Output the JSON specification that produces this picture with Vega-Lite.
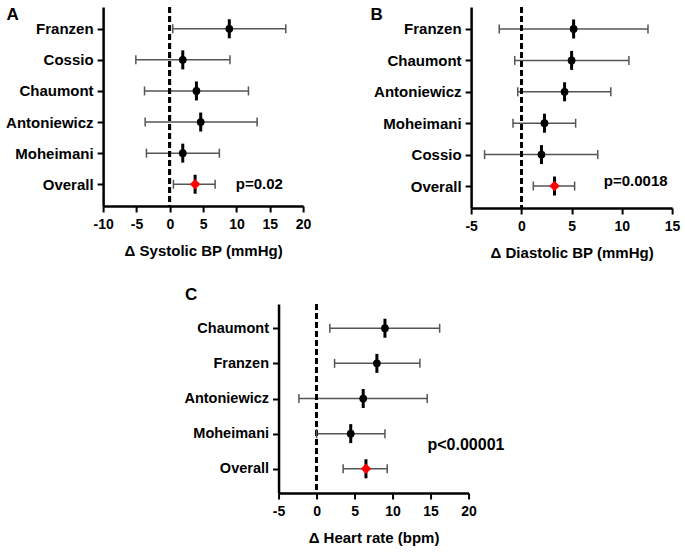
{
  "$schema": "https://vega.github.io/schema/vega-lite/v6.json",
  "background": "white",
  "datasets": {
    "a": [
      {"study": "Franzen", "est": 8.93, "lo": 0.45, "hi": 17.4},
      {"study": "Cossio", "est": 1.95, "lo": -5.09, "hi": 9.03},
      {"study": "Chaumont", "est": 4.0, "lo": -3.79, "hi": 11.8},
      {"study": "Antoniewicz", "est": 4.64, "lo": -3.69, "hi": 13.1},
      {"study": "Moheimani", "est": 1.95, "lo": -3.5, "hi": 7.44},
      {"study": "Overall", "est": 3.8, "lo": 0.55, "hi": 6.8}
    ],
    "b": [
      {"study": "Franzen", "est": 5.2, "lo": -2.2, "hi": 12.6},
      {"study": "Chaumont", "est": 5.0, "lo": -0.66, "hi": 10.7},
      {"study": "Antoniewicz", "est": 4.3, "lo": -0.36, "hi": 8.9},
      {"study": "Moheimani", "est": 2.3, "lo": -0.83, "hi": 5.4},
      {"study": "Cossio", "est": 2.0, "lo": -3.66, "hi": 7.6},
      {"study": "Overall", "est": 3.3, "lo": 1.19, "hi": 5.3}
    ],
    "c": [
      {"study": "Chaumont", "est": 9.0, "lo": 1.75, "hi": 16.2},
      {"study": "Franzen", "est": 7.94, "lo": 2.37, "hi": 13.6},
      {"study": "Antoniewicz", "est": 6.14, "lo": -2.32, "hi": 14.56},
      {"study": "Moheimani", "est": 4.5, "lo": 0.0, "hi": 9.0},
      {"study": "Overall", "est": 6.5, "lo": 3.5, "hi": 9.3}
    ]
  },
  "config": {
    "font": "Liberation Sans",
    "view": {"stroke": null},
    "tick": {"opacity": 1},
    "axis": {
      "grid": false,
      "domainColor": "black",
      "domainWidth": 2.5,
      "tickColor": "black",
      "tickWidth": 2,
      "tickSize": 6,
      "labelFont": "Liberation Sans",
      "labelFontWeight": "bold",
      "labelFontSize": 14,
      "labelColor": "black",
      "labelOverlap": false,
      "labelFlush": false,
      "titleFont": "Liberation Sans",
      "titleFontWeight": "bold",
      "titleFontSize": 15,
      "titleColor": "black"
    }
  },
  "vconcat": [
    {
      "hconcat": [
        {
          "width": 200,
          "height": 199,
          "data": {"name": "a"},
          "layer": [
            {
              "mark": {"type": "rule", "color": "#555555", "strokeWidth": 1.5},
              "encoding": {
                "x": {"field": "lo", "type": "quantitative", "scale": {"domain": [-10, 20], "nice": false, "zero": false},
                  "axis": {"values": [-10, -5, 0, 5, 10, 15, 20], "labelOverlap": false, "labelFlush": false, "labelExpr": "'' + datum.value", "title": "Δ Systolic BP (mmHg)", "labelPadding": 5, "titlePadding": 12}},
                "x2": {"field": "hi"},
                "y": {"field": "study", "type": "nominal", "sort": null, "scale": {"type": "point", "padding": 0.7, "domain": ["Franzen", "Cossio", "Chaumont", "Antoniewicz", "Moheimani", "Overall"]},
                  "axis": {"title": "A", "titleAngle": 0, "titleAlign": "left", "titleBaseline": "alphabetic", "titleX": -97, "titleY": 12, "titleFontSize": 17, "labelFontSize": 15, "labelPadding": 4,
                    "labelExpr": "datum.value == 'Moheimani' ? 'Moheimani\u00a0' : datum.value"}}
              }
            },
            {
              "mark": {"type": "rule", "color": "black", "strokeWidth": 2.5, "strokeDash": [6, 3]},
              "encoding": {"x": {"datum": 0, "type": "quantitative",
                "axis": {"values": [-10, -5, 0, 5, 10, 15, 20], "labelOverlap": false, "labelFlush": false, "labelExpr": "'' + datum.value", "title": "Δ Systolic BP (mmHg)", "labelPadding": 5, "titlePadding": 12}}}
            },
            {
              "mark": {"type": "tick", "color": "#555555", "thickness": 1.5, "size": 9, "opacity": 1},
              "encoding": {"x": {"field": "lo", "type": "quantitative",
                "axis": {"values": [-10, -5, 0, 5, 10, 15, 20], "labelOverlap": false, "labelFlush": false, "labelExpr": "'' + datum.value", "title": "Δ Systolic BP (mmHg)", "labelPadding": 5, "titlePadding": 12}},
                "y": {"field": "study", "type": "nominal", "sort": null}}
            },
            {
              "mark": {"type": "tick", "color": "#555555", "thickness": 1.5, "size": 9, "opacity": 1},
              "encoding": {"x": {"field": "hi", "type": "quantitative",
                "axis": {"values": [-10, -5, 0, 5, 10, 15, 20], "labelOverlap": false, "labelFlush": false, "labelExpr": "'' + datum.value", "title": "Δ Systolic BP (mmHg)", "labelPadding": 5, "titlePadding": 12}},
                "y": {"field": "study", "type": "nominal", "sort": null}}
            },
            {
              "mark": {"type": "tick", "color": "black", "thickness": 3, "size": 19, "opacity": 1},
              "encoding": {"x": {"field": "est", "type": "quantitative",
                "axis": {"values": [-10, -5, 0, 5, 10, 15, 20], "labelOverlap": false, "labelFlush": false, "labelExpr": "'' + datum.value", "title": "Δ Systolic BP (mmHg)", "labelPadding": 5, "titlePadding": 12}},
                "y": {"field": "study", "type": "nominal", "sort": null}}
            },
            {
              "mark": {"type": "point", "filled": true, "opacity": 1},
              "encoding": {
                "x": {"field": "est", "type": "quantitative",
                  "axis": {"values": [-10, -5, 0, 5, 10, 15, 20], "labelOverlap": false, "labelFlush": false, "labelExpr": "'' + datum.value", "title": "Δ Systolic BP (mmHg)", "labelPadding": 5, "titlePadding": 12}},
                "y": {"field": "study", "type": "nominal", "sort": null},
                "color": {"condition": {"test": "datum.study === 'Overall'", "value": "#ff0000"}, "value": "black"},
                "shape": {"condition": {"test": "datum.study === 'Overall'", "value": "diamond"}, "value": "circle"},
                "size": {"condition": {"test": "datum.study === 'Overall'", "value": 110}, "value": 60}
              }
            },
            {
              "mark": {"type": "text", "fontSize": 15, "fontWeight": "bold", "align": "left", "baseline": "middle", "color": "black"},
              "data": {"values": [{"label": "p=0.02", "px": 9.9, "row": "Overall"}]},
              "encoding": {"x": {"field": "px", "type": "quantitative",
                "axis": {"values": [-10, -5, 0, 5, 10, 15, 20], "labelOverlap": false, "labelFlush": false, "labelExpr": "'' + datum.value", "title": "Δ Systolic BP (mmHg)", "labelPadding": 5, "titlePadding": 12}},
                "y": {"field": "row", "type": "nominal", "sort": null}, "text": {"field": "label"}}
            }
          ]
        },
        {
          "width": 201,
          "height": 201,
          "data": {"name": "b"},
          "layer": [
            {
              "mark": {"type": "rule", "color": "#555555", "strokeWidth": 1.5},
              "encoding": {
                "x": {"field": "lo", "type": "quantitative", "scale": {"domain": [-5, 15], "nice": false, "zero": false},
                  "axis": {"values": [-5, 0, 5, 10, 15], "labelOverlap": false, "labelFlush": false, "labelExpr": "'' + datum.value", "title": "Δ Diastolic BP (mmHg)", "labelPadding": 5, "titlePadding": 12}},
                "x2": {"field": "hi"},
                "y": {"field": "study", "type": "nominal", "sort": null, "scale": {"type": "point", "padding": 0.7, "domain": ["Franzen", "Chaumont", "Antoniewicz", "Moheimani", "Cossio", "Overall"]},
                  "axis": {"title": "B", "titleAngle": 0, "titleAlign": "left", "titleBaseline": "alphabetic", "titleX": -101, "titleY": 12, "titleFontSize": 17, "labelFontSize": 15, "labelPadding": 4,
                    "labelExpr": "datum.value == 'Moheimani' ? 'Moheimani\u00a0' : datum.value"}}
              }
            },
            {
              "mark": {"type": "rule", "color": "black", "strokeWidth": 2.5, "strokeDash": [6, 3]},
              "encoding": {"x": {"datum": 0, "type": "quantitative",
                "axis": {"values": [-5, 0, 5, 10, 15], "labelOverlap": false, "labelFlush": false, "labelExpr": "'' + datum.value", "title": "Δ Diastolic BP (mmHg)", "labelPadding": 5, "titlePadding": 12}}}
            },
            {
              "mark": {"type": "tick", "color": "#555555", "thickness": 1.5, "size": 9, "opacity": 1},
              "encoding": {"x": {"field": "lo", "type": "quantitative",
                "axis": {"values": [-5, 0, 5, 10, 15], "labelOverlap": false, "labelFlush": false, "labelExpr": "'' + datum.value", "title": "Δ Diastolic BP (mmHg)", "labelPadding": 5, "titlePadding": 12}},
                "y": {"field": "study", "type": "nominal", "sort": null}}
            },
            {
              "mark": {"type": "tick", "color": "#555555", "thickness": 1.5, "size": 9, "opacity": 1},
              "encoding": {"x": {"field": "hi", "type": "quantitative",
                "axis": {"values": [-5, 0, 5, 10, 15], "labelOverlap": false, "labelFlush": false, "labelExpr": "'' + datum.value", "title": "Δ Diastolic BP (mmHg)", "labelPadding": 5, "titlePadding": 12}},
                "y": {"field": "study", "type": "nominal", "sort": null}}
            },
            {
              "mark": {"type": "tick", "color": "black", "thickness": 3, "size": 19, "opacity": 1},
              "encoding": {"x": {"field": "est", "type": "quantitative",
                "axis": {"values": [-5, 0, 5, 10, 15], "labelOverlap": false, "labelFlush": false, "labelExpr": "'' + datum.value", "title": "Δ Diastolic BP (mmHg)", "labelPadding": 5, "titlePadding": 12}},
                "y": {"field": "study", "type": "nominal", "sort": null}}
            },
            {
              "mark": {"type": "point", "filled": true, "opacity": 1},
              "encoding": {
                "x": {"field": "est", "type": "quantitative",
                  "axis": {"values": [-5, 0, 5, 10, 15], "labelOverlap": false, "labelFlush": false, "labelExpr": "'' + datum.value", "title": "Δ Diastolic BP (mmHg)", "labelPadding": 5, "titlePadding": 12}},
                "y": {"field": "study", "type": "nominal", "sort": null},
                "color": {"condition": {"test": "datum.study === 'Overall'", "value": "#ff0000"}, "value": "black"},
                "shape": {"condition": {"test": "datum.study === 'Overall'", "value": "diamond"}, "value": "circle"},
                "size": {"condition": {"test": "datum.study === 'Overall'", "value": 110}, "value": 60}
              }
            },
            {
              "mark": {"type": "text", "fontSize": 15, "fontWeight": "bold", "align": "left", "baseline": "middle", "color": "black", "dy": -5},
              "data": {"values": [{"label": "p=0.0018", "px": 8.2, "row": "Overall"}]},
              "encoding": {"x": {"field": "px", "type": "quantitative",
                "axis": {"values": [-5, 0, 5, 10, 15], "labelOverlap": false, "labelFlush": false, "labelExpr": "'' + datum.value", "title": "Δ Diastolic BP (mmHg)", "labelPadding": 5, "titlePadding": 12}},
                "y": {"field": "row", "type": "nominal", "sort": null}, "text": {"field": "label"}}
            }
          ]
        }
      ],
      "spacing": 59
    },
    {
      "width": 190,
      "height": 189,
      "data": {"name": "c"},
      "layer": [
        {
          "mark": {"type": "rule", "color": "#555555", "strokeWidth": 1.5},
          "encoding": {
            "x": {"field": "lo", "type": "quantitative", "scale": {"domain": [-5, 20], "nice": false, "zero": false},
              "axis": {"values": [-5, 0, 5, 10, 15, 20], "labelOverlap": false, "labelFlush": false, "labelExpr": "'' + datum.value", "title": "Δ Heart rate (bpm)", "labelPadding": 5, "titlePadding": 12}},
            "x2": {"field": "hi"},
            "y": {"field": "study", "type": "nominal", "sort": null, "scale": {"type": "point", "padding": 0.69, "domain": ["Chaumont", "Franzen", "Antoniewicz", "Moheimani", "Overall"]},
              "axis": {"title": "C", "titleAngle": 0, "titleAlign": "left", "titleBaseline": "alphabetic", "titleX": -94, "titleY": -5, "titleFontSize": 17, "labelFontSize": 14.5, "labelPadding": 4,
                "labelExpr": "datum.value == 'Moheimani' ? 'Moheimani\u00a0' : datum.value"}}
          }
        },
        {
          "mark": {"type": "rule", "color": "black", "strokeWidth": 2.5, "strokeDash": [6, 3]},
          "encoding": {"x": {"datum": 0, "type": "quantitative",
            "axis": {"values": [-5, 0, 5, 10, 15, 20], "labelOverlap": false, "labelFlush": false, "labelExpr": "'' + datum.value", "title": "Δ Heart rate (bpm)", "labelPadding": 5, "titlePadding": 12}}}
        },
        {
          "mark": {"type": "tick", "color": "#555555", "thickness": 1.5, "size": 9, "opacity": 1},
          "encoding": {"x": {"field": "lo", "type": "quantitative",
            "axis": {"values": [-5, 0, 5, 10, 15, 20], "labelOverlap": false, "labelFlush": false, "labelExpr": "'' + datum.value", "title": "Δ Heart rate (bpm)", "labelPadding": 5, "titlePadding": 12}},
            "y": {"field": "study", "type": "nominal", "sort": null}}
        },
        {
          "mark": {"type": "tick", "color": "#555555", "thickness": 1.5, "size": 9, "opacity": 1},
          "encoding": {"x": {"field": "hi", "type": "quantitative",
            "axis": {"values": [-5, 0, 5, 10, 15, 20], "labelOverlap": false, "labelFlush": false, "labelExpr": "'' + datum.value", "title": "Δ Heart rate (bpm)", "labelPadding": 5, "titlePadding": 12}},
            "y": {"field": "study", "type": "nominal", "sort": null}}
        },
        {
          "mark": {"type": "tick", "color": "black", "thickness": 3, "size": 19, "opacity": 1},
          "encoding": {"x": {"field": "est", "type": "quantitative",
            "axis": {"values": [-5, 0, 5, 10, 15, 20], "labelOverlap": false, "labelFlush": false, "labelExpr": "'' + datum.value", "title": "Δ Heart rate (bpm)", "labelPadding": 5, "titlePadding": 12}},
            "y": {"field": "study", "type": "nominal", "sort": null}}
        },
        {
          "mark": {"type": "point", "filled": true, "opacity": 1},
          "encoding": {
            "x": {"field": "est", "type": "quantitative",
              "axis": {"values": [-5, 0, 5, 10, 15, 20], "labelOverlap": false, "labelFlush": false, "labelExpr": "'' + datum.value", "title": "Δ Heart rate (bpm)", "labelPadding": 5, "titlePadding": 12}},
            "y": {"field": "study", "type": "nominal", "sort": null},
            "color": {"condition": {"test": "datum.study === 'Overall'", "value": "#ff0000"}, "value": "black"},
            "shape": {"condition": {"test": "datum.study === 'Overall'", "value": "diamond"}, "value": "circle"},
            "size": {"condition": {"test": "datum.study === 'Overall'", "value": 110}, "value": 60}
          }
        },
        {
          "mark": {"type": "text", "fontSize": 16, "fontWeight": "bold", "align": "left", "baseline": "middle", "color": "black", "dy": 11},
          "data": {"values": [{"label": "p<0.00001", "px": 14.6, "row": "Moheimani"}]},
          "encoding": {"x": {"field": "px", "type": "quantitative",
            "axis": {"values": [-5, 0, 5, 10, 15, 20], "labelOverlap": false, "labelFlush": false, "labelExpr": "'' + datum.value", "title": "Δ Heart rate (bpm)", "labelPadding": 5, "titlePadding": 12}},
            "y": {"field": "row", "type": "nominal", "sort": null}, "text": {"field": "label"}}
        }
      ]
    }
  ],
  "spacing": 25,
  "center": true
}
